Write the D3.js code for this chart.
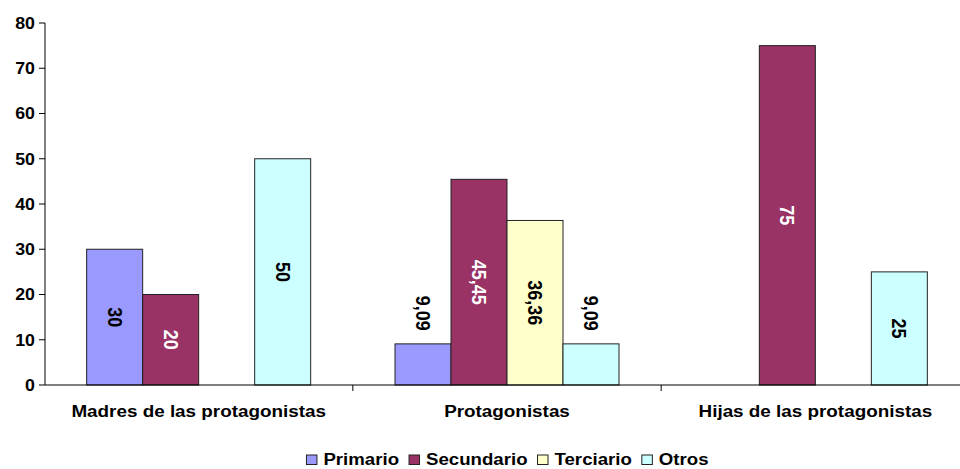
<!DOCTYPE html>
<html>
<head>
<meta charset="utf-8">
<script src="https://cdn.jsdelivr.net/npm/d3@7"></script>
<style>
  html, body { margin: 0; padding: 0; background: #fff; }
  svg { display: block; }
  text { font-family: "Liberation Sans", Arial, sans-serif; font-weight: bold; }
</style>
</head>
<body>
<svg id="chart" width="960" height="469"></svg>
<script>
// ---- data ----
const categories = ["Madres de las protagonistas", "Protagonistas", "Hijas de las protagonistas"];
const seriesNames = ["Primario", "Secundario", "Terciario", "Otros"];
const primario   = [30, 9.09, 0];
const secundario = [20, 45.45, 75];
const terciario  = [0, 36.36, 0];
const otros      = [50, 9.09, 25];
const yTicks = [0, 10, 20, 30, 40, 50, 60, 70, 80];
const colors = ["#9999FF", "#993366", "#FFFFCC", "#CCFFFF"];
const labelColors = ["#000", "#fff", "#000", "#000"];

const seriesValues = [primario, secundario, terciario, otros];
const SX = 1.11; // horizontal stretch of the original rendering

const svg = d3.select("#chart");

const x0 = d3.scaleBand().domain(categories).range([44.5, 969.5]).paddingInner(0).paddingOuter(0);
const x1 = d3.scaleBand().domain(seriesNames).range([0, x0.bandwidth()]).paddingInner(0).paddingOuter(0.753);
const y = d3.scaleLinear().domain([0, 80]).range([385, 23]);

const fmt = v => String(v).replace(".", ",");

// y axis
const yAxis = svg.append("g").attr("transform", "translate(45,0)");
yAxis.append("line").attr("x1", 0).attr("x2", 0).attr("y1", y(0)).attr("y2", y(80)).attr("stroke", "#000");
yTicks.forEach(t => {
  yAxis.append("line").attr("x1", -6).attr("x2", 0).attr("y1", y(t)).attr("y2", y(t)).attr("stroke", "#000");
  yAxis.append("g").attr("transform", `translate(-10,${y(t) + 5.8})`)
    .append("text").attr("transform", `scale(${SX},1)`).attr("text-anchor", "end")
    .style("font-size", "16px").style("fill", "#000").text(t);
});

// bars
const groups = svg.append("g").selectAll("g.grp").data(categories).join("g")
  .attr("class", "grp").attr("transform", d => `translate(${x0(d)},0)`);

categories.forEach((cat, ci) => {
  const g = groups.filter(d => d === cat);
  seriesNames.forEach((s, si) => {
    const v = seriesValues[si][ci];
    if (!v) return;
    const bx = x1(s), bw = x1.bandwidth();
    g.append("rect").attr("x", bx).attr("y", y(v)).attr("width", bw).attr("height", y(0) - y(v))
      .attr("fill", colors[si]).attr("stroke", "#222").attr("stroke-width", 1);
  });
});

// x axis
const xAxis = svg.append("g");
xAxis.append("line").attr("x1", 45).attr("x2", 969.5).attr("y1", y(0)).attr("y2", y(0)).attr("stroke", "#000");
categories.forEach((c, i) => {
  if (i > 0) xAxis.append("line").attr("x1", x0(c)).attr("x2", x0(c)).attr("y1", y(0)).attr("y2", y(0) + 6).attr("stroke", "#000");
  xAxis.append("g").attr("transform", `translate(${x0(c) + x0.bandwidth() / 2},${y(0) + 32})`)
    .append("text").attr("transform", `scale(${SX},1)`).attr("text-anchor", "middle")
    .style("font-size", "17px").style("fill", "#000").text(c);
});

// data labels (rotated 90deg)
const labels = svg.append("g");
categories.forEach((cat, ci) => {
  seriesNames.forEach((s, si) => {
    const v = seriesValues[si][ci];
    if (!v) return;
    const cx = x0(cat) + x1(s) + x1.bandwidth() / 2;
    const txt = fmt(v);
    const g = labels.append("g");
    const t = g.append("text").attr("text-anchor", "middle").style("font-size", "18px").text(txt);
    const len = t.node().getComputedTextLength();
    const h = y(0) - y(v);
    let cy, col = labelColors[si];
    if (h < len + 10) { cy = y(v) - 13 - len / 2; col = "#000"; }
    else cy = (y(v) + y(0)) / 2;
    t.style("fill", col).attr("dy", "0.35em");
    g.attr("transform", `translate(${cx},${cy}) scale(${SX},1) rotate(90)`);
  });
});

// legend
const legend = svg.append("g");
let lx = 0;
seriesNames.forEach((s, i) => {
  const it = legend.append("g");
  it.append("rect").attr("x", 0).attr("y", -10).attr("width", 10.5).attr("height", 9.5)
    .attr("fill", colors[i]).attr("stroke", "#222").attr("stroke-width", 1);
  const t = it.append("g").attr("transform", `translate(17,0)`)
    .append("text").attr("transform", `scale(${SX},1)`).style("font-size", "16.8px").style("fill", "#000").text(s);
  const w = 17 + t.node().getComputedTextLength() * SX;
  it.attr("transform", `translate(${lx},0)`);
  lx += w + 10;
});
const totalW = lx - 10;
legend.attr("transform", `translate(${507.5 - totalW / 2},465)`);
</script>
</body>
</html>
